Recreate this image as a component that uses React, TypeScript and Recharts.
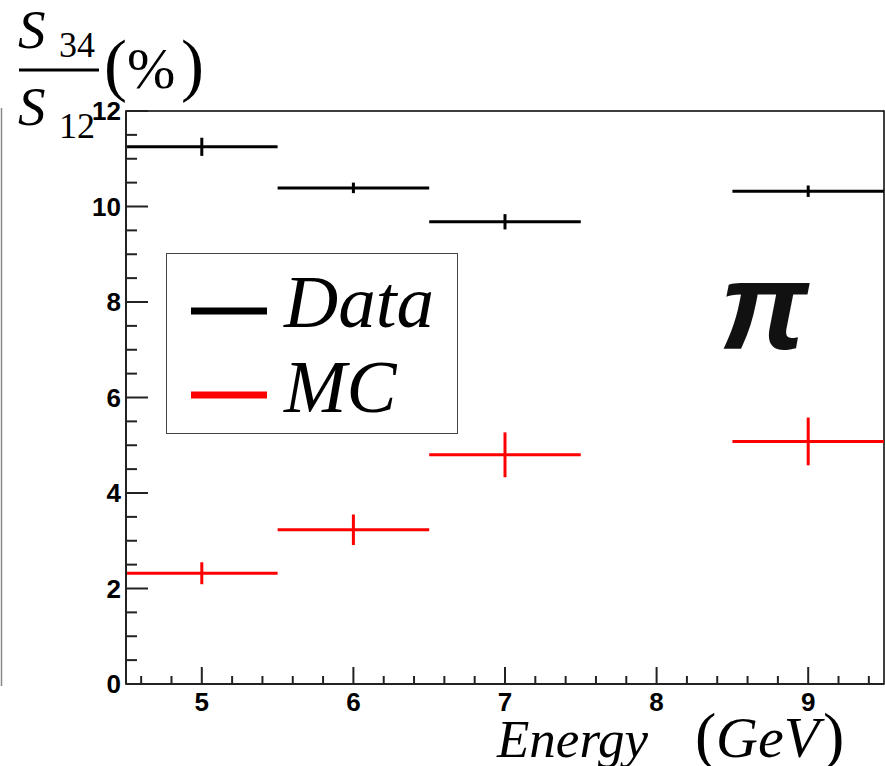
import React from 'react';
import { ComposedChart, Scatter, ErrorBar, XAxis, YAxis, ReferenceArea, Legend } from 'recharts';

// bin centres (GeV) and measured ratios S34/S12 in %
const energies = [5, 6, 7, 9];
const binHalfWidths = [0.5, 0.5, 0.5, 0.5];
const dataValues = [11.25, 10.39, 9.68, 10.32];
const dataErrors = [0.19, 0.11, 0.16, 0.12];
const mcValues = [2.32, 3.23, 4.8, 5.08];
const mcErrors = [0.23, 0.32, 0.47, 0.5];

const seriesNames = ['Data', 'MC'];
const seriesColors = ['#000000', '#ff0000'];

// minor ticks every 0.2 on x, every 0.5 on y; labels only on majors
const xTicks = Array.from({ length: 25 }, (_, i) => Number((4.6 + i * 0.2).toFixed(1)));
const yTicks = Array.from({ length: 25 }, (_, i) => i * 0.5);

const dataPoints = energies.map((e, i) => ({ x: e, y: dataValues[i], ex: binHalfWidths[i], ey: dataErrors[i] }));
const mcPoints = energies.map((e, i) => ({ x: e, y: mcValues[i], ex: binHalfWidths[i], ey: mcErrors[i] }));

const SERIF = '"Liberation Serif", "Times New Roman", serif';
const SANS = '"Liberation Sans", Arial, sans-serif';
const X_MARGIN = 9;
const Y_MARGIN = 6;

const XTick = (props: any) => {
  const { x, y, payload } = props;
  const v = payload.value;
  const major = Math.abs(v - Math.round(v)) < 1e-6;
  const y0 = y - X_MARGIN;
  return (
    <g>
      <line x1={x} x2={x} y1={y0} y2={y0 - (major ? 17 : 8)} stroke="#222" strokeWidth={2} />
      {major && (
        <text x={x} y={y0 + 27} textAnchor="middle" fontFamily={SANS} fontWeight="bold" fontSize={26} fill="#000">
          {v}
        </text>
      )}
    </g>
  );
};

const YTick = (props: any) => {
  const { x, y, payload } = props;
  const v = payload.value;
  const major = v % 2 === 0;
  const x0 = x + Y_MARGIN;
  return (
    <g>
      <line x1={x0} x2={x0 + (major ? 22 : 11)} y1={y} y2={y} stroke="#222" strokeWidth={2} />
      {major && (
        <text x={x0 - 5} y={y + 9} textAnchor="end" fontFamily={SANS} fontWeight="bold" fontSize={26} fill="#000">
          {v}
        </text>
      )}
    </g>
  );
};

const YTitle = () => (
  <g>
    <line x1={1.5} x2={1.5} y1={108} y2={686} stroke="#888" strokeWidth={1.5} />
    <text x={18} y={48} fontFamily={SERIF} fontStyle="italic" fontSize={55} fill="#000">S</text>
    <text x={59} y={57} fontFamily={SERIF} fontSize={36} fill="#000">34</text>
    <line x1={19} x2={99} y1={70} y2={70} stroke="#000" strokeWidth={3} />
    <text x={18} y={125} fontFamily={SERIF} fontStyle="italic" fontSize={55} fill="#000">S</text>
    <text x={59} y={138} fontFamily={SERIF} fontSize={36} fill="#000">12</text>
    <text x={104} y={88} fontFamily={SERIF} fontSize={69} fill="#000">(</text>
    <text x={127} y={88} fontFamily={SERIF} fontSize={58} fill="#000">%</text>
    <text x={181} y={88} fontFamily={SERIF} fontSize={69} fill="#000">)</text>
  </g>
);

const XTitle = () => (
  <g>
    <text x={497} y={757} fontFamily={SERIF} fontStyle="italic" fontSize={53} fill="#000">Energy</text>
    <text x={695} y={757} fontFamily={SERIF} fontSize={64} fill="#000">(</text>
    <text x={716} y={757} fontFamily={SERIF} fontStyle="italic" fontSize={58} fill="#000">GeV</text>
    <text x={823} y={757} fontFamily={SERIF} fontSize={64} fill="#000">)</text>
    <text x={764} y={349} textAnchor="middle" fontFamily={SANS} fontStyle="italic" fontWeight="bold" fontSize={125} fill="#111">π</text>
  </g>
);

const LegendBox = () => (
  <div style={{ width: 292, height: 181, boxSizing: 'border-box', border: '1.5px solid #444', background: '#fff' }}>
    <svg width={289} height={178} style={{ display: 'block' }}>
      {seriesNames.map((name, i) => (
        <g key={name}>
          <line x1={24} x2={100} y1={57 + i * 84} y2={57 + i * 84} stroke={seriesColors[i]} strokeWidth={7} />
          <text x={117} y={73 + i * 85} fontFamily={SERIF} fontStyle="italic" fontSize={75} fill="#000">
            {name}
          </text>
        </g>
      ))}
    </svg>
  </div>
);

export default function App() {
  return (
    <div style={{ position: 'absolute', left: 0, top: 0, width: 885, height: 766, background: '#fff' }}>
      <ComposedChart width={885} height={766} margin={{ top: 111, right: 1, left: 66, bottom: 22 }}>
        <XAxis
          type="number"
          dataKey="x"
          domain={[4.5, 9.5]}
          ticks={xTicks}
          interval={0}
          height={60}
          tickSize={0}
          tickMargin={X_MARGIN}
          tickLine={false}
          axisLine={{ stroke: '#222', strokeWidth: 2 }}
          tick={<XTick />}
          allowDataOverflow
          label={{ content: () => <XTitle /> }}
        />
        <YAxis
          type="number"
          dataKey="y"
          domain={[0, 12]}
          ticks={yTicks}
          interval={0}
          width={60}
          tickSize={0}
          tickMargin={Y_MARGIN}
          tickLine={false}
          axisLine={{ stroke: '#222', strokeWidth: 2 }}
          tick={<YTick />}
          allowDataOverflow
          label={{ content: () => <YTitle /> }}
        />
        <ReferenceArea x1={4.5} x2={9.5} y1={0} y2={12} fill="none" stroke="#000" strokeWidth={1.5} />
        <Scatter name={seriesNames[0]} data={dataPoints} fill={seriesColors[0]} shape={() => <g />} isAnimationActive={false}>
          <ErrorBar dataKey="ex" direction="x" width={0} stroke={seriesColors[0]} strokeWidth={3} isAnimationActive={false} />
          <ErrorBar dataKey="ey" direction="y" width={0} stroke={seriesColors[0]} strokeWidth={3} isAnimationActive={false} />
        </Scatter>
        <Scatter name={seriesNames[1]} data={mcPoints} fill={seriesColors[1]} shape={() => <g />} isAnimationActive={false}>
          <ErrorBar dataKey="ex" direction="x" width={0} stroke={seriesColors[1]} strokeWidth={3} isAnimationActive={false} />
          <ErrorBar dataKey="ey" direction="y" width={0} stroke={seriesColors[1]} strokeWidth={3} isAnimationActive={false} />
        </Scatter>
        <Legend
          layout="horizontal"
          verticalAlign="middle"
          align="center"
          wrapperStyle={{ left: 166, top: 253, width: 292, height: 181 }}
          content={() => <LegendBox />}
        />
      </ComposedChart>
    </div>
  );
}
